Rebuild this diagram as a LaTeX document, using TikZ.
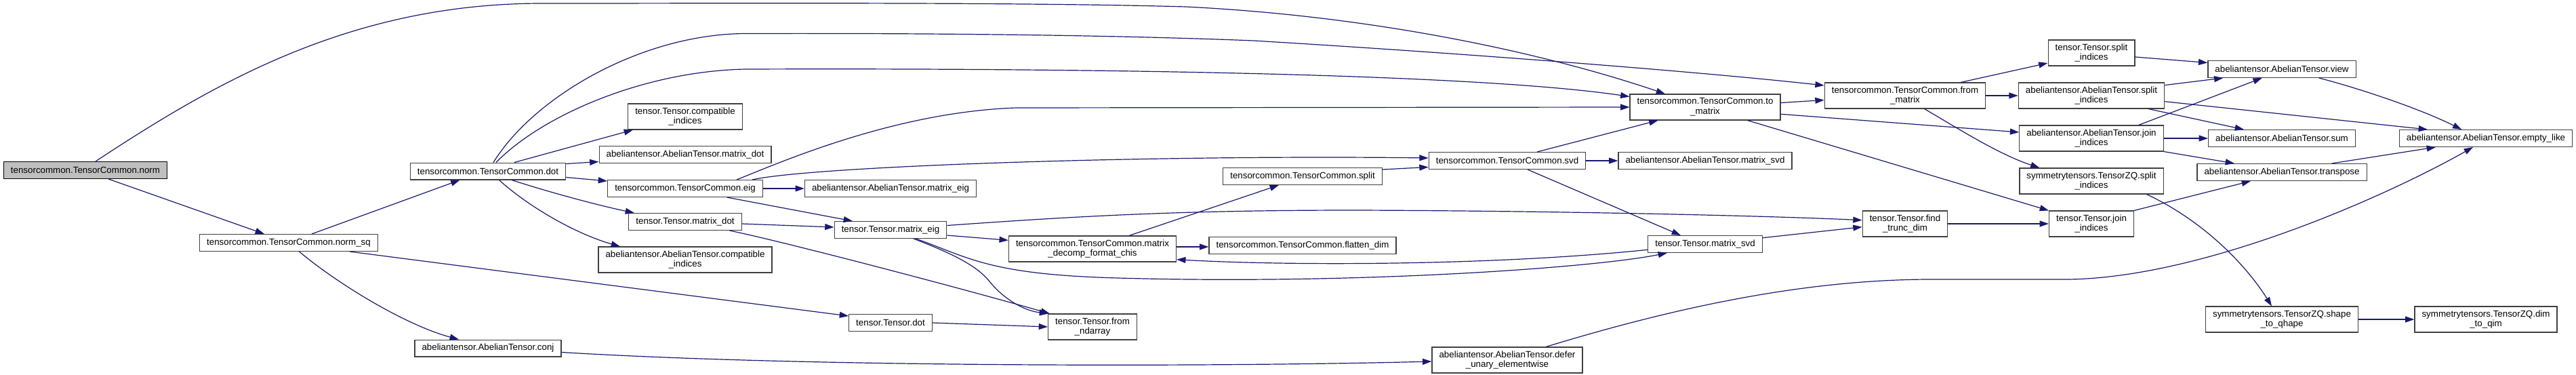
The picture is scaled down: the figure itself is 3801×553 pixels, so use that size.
\documentclass[tikz,border=0pt]{standalone}
\usepackage{fontspec}
\setmainfont{Liberation Sans}
\usetikzlibrary{arrows.meta, calc}
\definecolor{EdgeBlue}{HTML}{191970}
\definecolor{Grey75}{HTML}{BFBFBF}
\definecolor{Border}{HTML}{404040}

\begin{document}
\begin{tikzpicture}[
    x=0.75pt, y=-0.75pt,
    every node/.style={font=\fontsize{10pt}{11pt}\selectfont},
    func/.style={rectangle, draw=Border, fill=white, line width=0.9pt, inner xsep=7.9pt, inner ysep=0pt, minimum height=18.6pt, align=center},
    functall/.style={func, minimum height=28.4pt},
    root/.style={func, draw=black, fill=Grey75},
    call/.style={-{Triangle[length=10pt, width=6.7pt]}, draw=EdgeBlue, line width=0.9pt}
]

\path[use as bounding box, fill=white] (0,0) rectangle (3801,553);

% Column 1
\node[root] (norm) at (126,251) {tensorcommon.TensorCommon.norm};

% Column 2
\node[func] (normsq) at (426,358) {tensorcommon.TensorCommon.norm\_sq};

% Column 3
\node[func] (dot) at (720,252.5) {tensorcommon.TensorCommon.dot};
\node[func] (conj) at (720,513.5) {abeliantensor.AbelianTensor.conj};

% Column 4
\node[functall] (tcompat) at (1011,172) {tensor.Tensor.compatible\\\_indices};
\node[func] (amatdot) at (1011,228) {abeliantensor.AbelianTensor.matrix\_dot};
\node[func] (eig) at (1011,278) {tensorcommon.TensorCommon.eig};
\node[func] (tmatdot) at (1011,327) {tensor.Tensor.matrix\_dot};
\node[functall] (acompat) at (1011,383) {abeliantensor.AbelianTensor.compatible\\\_indices};

% Column 5
\node[func] (amateig) at (1314,278) {abeliantensor.AbelianTensor.matrix\_eig};
\node[func] (tmateig) at (1314,339) {tensor.Tensor.matrix\_eig};
\node[func] (tdot) at (1314,476) {tensor.Tensor.dot};

% Column 6
\node[functall] (decomp) at (1612,367) {tensorcommon.TensorCommon.matrix\\\_decomp\_format\_chis};
\node[functall] (fromnd) at (1612,482) {tensor.Tensor.from\\\_ndarray};

% Column 7
\node[func] (split) at (1922,260) {tensorcommon.TensorCommon.split};
\node[func] (flatten) at (1922,362) {tensorcommon.TensorCommon.flatten\_dim};

% Column 8
\node[func] (svd) at (2224,237) {tensorcommon.TensorCommon.svd};
\node[functall] (defer) at (2224,531) {abeliantensor.AbelianTensor.defer\\\_unary\_elementwise};

% Column 9
\node[functall] (tomatrix) at (2516,158) {tensorcommon.TensorCommon.to\\\_matrix};
\node[func] (amatsvd) at (2516,237) {abeliantensor.AbelianTensor.matrix\_svd};
\node[func] (tmatsvd) at (2516,360) {tensor.Tensor.matrix\_svd};

% Column 10
\node[functall] (frommatrix) at (2811,141) {tensorcommon.TensorCommon.from\\\_matrix};
\node[functall] (findtrunc) at (2811,330) {tensor.Tensor.find\\\_trunc\_dim};

% Column 11
\node[functall] (tsplit) at (3086,78) {tensor.Tensor.split\\\_indices};
\node[functall] (asplit) at (3086,141) {abeliantensor.AbelianTensor.split\\\_indices};
\node[functall] (ajoin) at (3086,204) {abeliantensor.AbelianTensor.join\\\_indices};
\node[functall] (zqsplit) at (3086,267) {symmetrytensors.TensorZQ.split\\\_indices};
\node[functall] (tjoin) at (3086,330) {tensor.Tensor.join\\\_indices};

% Column 12
\node[func] (aview) at (3367,102) {abeliantensor.AbelianTensor.view};
\node[func] (asum) at (3367,204) {abeliantensor.AbelianTensor.sum};
\node[func] (atranspose) at (3367,254) {abeliantensor.AbelianTensor.transpose};
\node[functall] (shapeqhape) at (3367,471) {symmetrytensors.TensorZQ.shape\\\_to\_qhape};

% Column 13
\node[func] (emptylike) at (3668,204) {abeliantensor.AbelianTensor.empty\_like};
\node[functall] (dimqim) at (3668,471) {symmetrytensors.TensorZQ.dim\\\_to\_qim};

% norm
\draw[call] ($(norm.south)+(34,0)$) -- ($(normsq.north)+(-36,0)$);
\draw[call] ($(norm.north)+(15,0)$) .. controls (320,120) and (520,5) .. (800,5) .. controls (1100,5) and (1500,3) .. (1750,10) .. controls (2050,25) and (2300,85) .. ($(tomatrix.north)+(-59,0)$);

% norm_sq
\draw[call] ($(normsq.north)+(34,0)$) -- ($(dot.south)+(-41.5,0)$);
\draw[call] ($(normsq.south)+(90,0)$) -- ($(tdot.west)+(0,-10)$);
\draw[call] ($(normsq.south)+(15.5,0)$) .. controls (500,420) and (600,480) .. ($(conj.north)+(-43,0)$);

% dot
\draw[call] ($(dot.north)+(8,0)$) .. controls (790,140) and (950,50) .. (1100,49.5) .. controls (1300,49) and (1600,50) .. (1850,60) .. controls (2150,78) and (2500,105) .. ($(frommatrix.west)+(0,-15)$);
\draw[call] ($(dot.north)+(12,0)$) .. controls (800,170) and (950,105) .. (1100,102) .. controls (1700,100) and (2200,112) .. ($(tomatrix.west)+(0,-15.5)$);
\draw[call] ($(dot.north)+(39,0)$) -- ($(tcompat.south)+(-77,0)$);
\draw[call] ($(dot.east)+(0,-11)$) -- ($(amatdot.west)+(0,10.5)$);
\draw[call] ($(dot.east)+(0,9)$) -- ($(eig.west)+(0,-11)$);
\draw[call] ($(dot.south)+(35,0)$) .. controls (800,280) and (870,300) .. ($(tmatdot.north)+(-75,0)$);
\draw[call] ($(dot.south)+(16.5,0)$) .. controls (780,305) and (850,345) .. ($(acompat.north)+(-96,0)$);

% eig
\draw[call] (eig.east) -- (amateig.west);
\draw[call] ($(eig.south)+(61.6,0)$) -- ($(tmateig.north)+(-56,0)$);
\draw[call] ($(eig.north)+(76,0)$) .. controls (1150,240) and (1320,165) .. (1500,159) -- (tomatrix.west);
\draw[call] ($(eig.north)+(99,0)$) .. controls (1200,245) and (1700,228) .. ($(svd.west)+(0,-4)$);

% tensor matrix_dot
\draw[call] ($(tmatdot.east)+(0,3)$) -- ($(tmateig.west)+(0,-4)$);
\draw[call] ($(tmatdot.south)+(65.5,0)$) .. controls (1150,355) and (1400,420) .. ($(fromnd.north west)+(3,0)$);

% tensor matrix_eig
\draw[call] ($(tmateig.east)+(0,8)$) -- ($(decomp.west)+(0,-12.7)$);
\draw[call] ($(tmateig.south)+(34,0)$) .. controls (1400,372) and (1440,390) .. (1460,415) .. controls (1480,440) and (1510,458) .. ($(fromnd.north west)+(1,0)$);
\draw[call] ($(tmateig.south)+(37.5,0)$) .. controls (1430,380) and (1460,405) .. (1650,410) .. controls (2000,420) and (2350,395) .. ($(tmatsvd.south)+(-56,0)$);
\draw[call] ($(tmateig.east)+(0,-6.5)$) .. controls (1600,318) and (1750,310) .. (2000,310) .. controls (2300,311) and (2600,318) .. ($(findtrunc.west)+(0,-5.3)$);

% tensor dot
\draw[call] (tdot.east) -- (fromnd.west);

% matrix_decomp_format_chis
\draw[call] ($(decomp.east)+(0,-3)$) -- ($(flatten.west)+(0,2)$);
\draw[call] ($(decomp.north)+(54,0)$) -- ($(split.south)+(-35,0)$);

% split
\draw[call] ($(split.east)+(0,-10)$) -- ($(svd.west)+(0,9.4)$);

% svd
\draw[call] (svd.east) -- (amatsvd.west);
\draw[call] ($(svd.north)+(44,0)$) -- ($(tomatrix.south)+(-69.5,0)$);
\draw[call] ($(svd.south)+(30,0)$) -- ($(tmatsvd.north)+(-36,0)$);

% tensor matrix_svd
\draw[call] ($(tmatsvd.west)+(0,8.3)$) .. controls (2200,392) and (1900,392) .. ($(decomp.east)+(0,15.7)$);
\draw[call] ($(tmatsvd.east)+(0,-9.3)$) -- ($(findtrunc.west)+(0,4.7)$);

% to_matrix
\draw[call] ($(tomatrix.east)+(0,-6.4)$) -- ($(frommatrix.west)+(0,6.5)$);
\draw[call] ($(tomatrix.east)+(0,10.3)$) -- ($(ajoin.west)+(0,-9)$);
\draw[call] ($(tomatrix.south)+(62.5,0)$) -- ($(tjoin.north)+(-63,0)$);

% from_matrix
\draw[call] ($(frommatrix.north)+(82,0)$) -- ($(tsplit.west)+(0,15)$);
\draw[call] (frommatrix.east) -- (asplit.west);
\draw[call] ($(frommatrix.south)+(28.5,0)$) .. controls (2890,190) and (2950,228) .. ($(zqsplit.north)+(-76.5,0)$);

% find_trunc_dim
\draw[call] (findtrunc.east) -- (tjoin.west);

% split and join of indices
\draw[call] ($(tsplit.east)+(0,6)$) -- ($(aview.west)+(0,-9.5)$);
\draw[call] ($(asplit.east)+(0,-15.4)$) -- ($(aview.south)+(-86.6,0)$);
\draw[call] ($(asplit.east)+(0,8.7)$) -- ($(emptylike.north)+(-86,0)$);
\draw[call] ($(asplit.south)+(84,0)$) -- ($(asum.north)+(-56,0)$);
\draw[call] ($(ajoin.north)+(69.6,0)$) -- ($(aview.south)+(-29.2,0)$);
\draw[call] (ajoin.east) -- (asum.west);
\draw[call] (ajoin.south east) -- ($(atranspose.north)+(-70,0)$);
\draw[call] (tjoin.north east) -- ($(atranspose.south)+(-46,0)$);
\draw[call] ($(zqsplit.south)+(81.5,0)$) .. controls (3260,330) and (3320,400) .. ($(shapeqhape.north)+(-15,0)$);

% AbelianTensor helpers
\draw[call] ($(atranspose.north)+(73.5,0)$) -- ($(emptylike.south)+(-74,0)$);
\draw[call] ($(aview.south)+(54.6,0)$) .. controls (3480,130) and (3570,160) .. ($(emptylike.north)+(-35.7,0)$);
\draw[call] (shapeqhape.east) -- (dimqim.west);

% conj
\draw[call] ($(conj.east)+(0,6)$) .. controls (1200,542) and (1800,541) .. ($(defer.west)+(0,2)$);
\draw[call] ($(defer.north)+(57,0)$) .. controls (2450,460) and (2650,412) .. (2850,412) -- (3050,412) .. controls (3250,410) and (3520,290) .. ($(emptylike.south)+(-19,0)$);

\end{tikzpicture}
\end{document}
